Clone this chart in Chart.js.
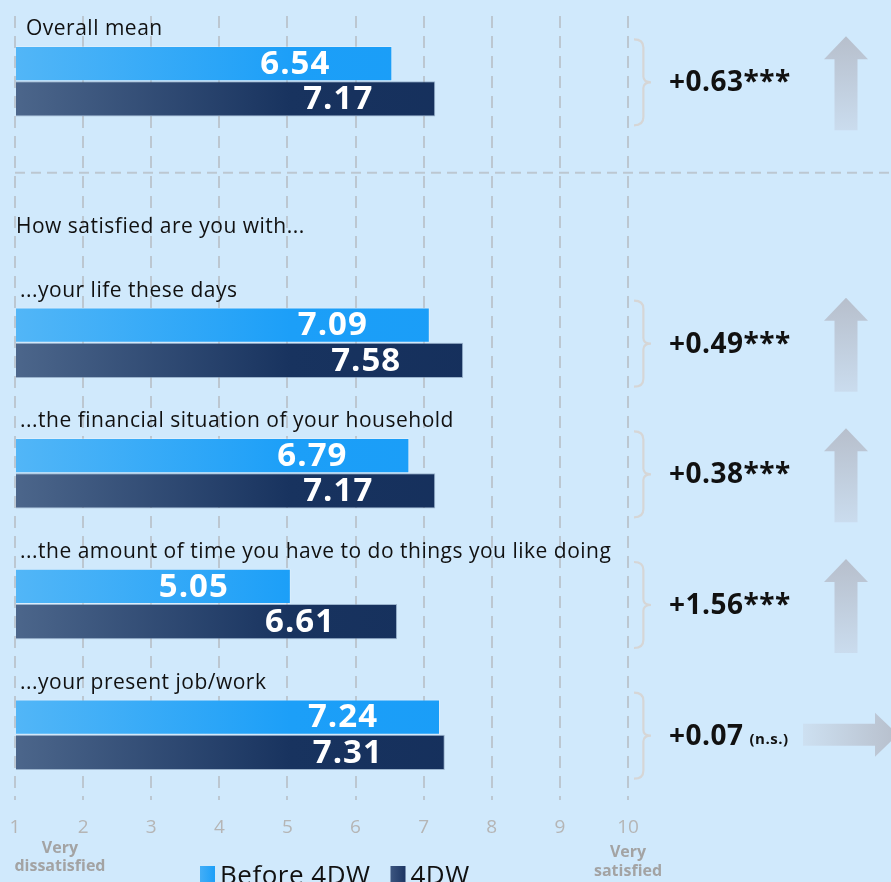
<!DOCTYPE html>
<html>
<head>
<meta charset="utf-8">
<script src="https://cdn.jsdelivr.net/npm/chart.js@4.4.1/dist/chart.umd.min.js"></script>
<style>
  html, body { margin: 0; padding: 0; background: #d0e9fc; overflow: hidden; }
  #wrap { width: 891px; height: 882px; }
</style>
</head>
<body>
<div id="wrap"><canvas id="chart" width="891" height="882"></canvas></div>
<script>
// Row labels (index 1 is the sub-heading, it has no bars)
const categories = [
    'Overall mean',
    'How satisfied are you with...',
    '...your life these days',
    '...the financial situation of your household',
    '...the amount of time you have to do things you like doing',
    '...your present job/work'
];
const before4dw = [6.54, null, 7.09, 6.79, 5.05, 7.24];
const with4dw = [7.17, null, 7.58, 7.17, 6.61, 7.31];
const changeValues = ['+0.63', null, '+0.49', '+0.38', '+1.56', '+0.07'];
const significance = ['***', null, '***', '***', '***', '(n.s.)'];
const xTicks = [1, 2, 3, 4, 5, 6, 7, 8, 9, 10];
const legendLabels = ['Before 4DW', '4DW'];

const FONT = '"Open Sans", "Noto Sans", sans-serif';
const GRID = '#bcc7d1';

// gradient across the chart area, light on the left, solid colour further right
function barGradient(chart, from, mid, to) {
    const area = chart.chartArea;
    if (!area) return to;
    const g = chart.ctx.createLinearGradient(area.left, 0, area.right, 0);
    g.addColorStop(0, from);
    g.addColorStop(0.45, mid);
    g.addColorStop(1, to);
    return g;
}

const annotations = {
    id: 'annotations',
    beforeDatasetsDraw(chart) {
        const { ctx, scales: { x, y } } = chart;
        // dashed separator under the overall mean
        const sepY = y.getPixelForValue(0.7);
        ctx.save();
        ctx.strokeStyle = GRID;
        ctx.lineWidth = 2;
        ctx.setLineDash([10, 6]);
        ctx.beginPath();
        ctx.moveTo(x.left, sepY);
        ctx.lineTo(chart.width, sepY);
        ctx.stroke();
        ctx.restore();
    },
    afterDatasetsDraw(chart) {
        const { ctx, scales: { x, y } } = chart;
        ctx.save();

        // row labels
        ctx.fillStyle = '#111';
        ctx.textBaseline = 'middle';
        ctx.textAlign = 'left';
        ctx.letterSpacing = '0.5px';
        categories.forEach((cat, i) => {
            const cy = y.getPixelForValue(i);
            if (i === 1) {
                ctx.font = '21px ' + FONT;
                ctx.fillText(cat, 16, cy + 15);
            } else {
                ctx.font = '21px ' + FONT;
                ctx.fillText(cat, i === 0 ? 26 : 20, cy - 52);
            }
        });

        // values inside the bars
        ctx.fillStyle = '#fff';
        ctx.font = 'bold 33px ' + FONT;
        ctx.letterSpacing = '1px';
        ctx.textAlign = 'right';
        chart.data.datasets.forEach((ds, di) => {
            chart.getDatasetMeta(di).data.forEach((bar, i) => {
                if (ds.data[i] == null) return;
                ctx.fillText(ds.data[i].toFixed(2), bar.x - 62, bar.y + 1);
            });
        });

        // braces, change values and arrows
        ctx.letterSpacing = '0.5px';
        changeValues.forEach((val, i) => {
            if (val == null) return;
            const cy = y.getPixelForValue(i);
            drawBrace(ctx, 634, cy + 1, 43);

            ctx.fillStyle = '#111';
            ctx.textAlign = 'left';
            ctx.font = 'bold 28px ' + FONT;
            ctx.fillText(val, 669, cy + 2);
            let tx = 669 + ctx.measureText(val).width;
            if (significance[i] === '***') {
                ctx.fillText('***', tx, cy + 2);
                drawUpArrow(ctx, 846, cy + 2);
            } else {
                ctx.font = 'bold 15px ' + FONT;
                ctx.fillText(significance[i], tx + 6, cy + 5);
                drawRightArrow(ctx, 803, cy);
            }
        });

        // "very" labels under the axis
        ctx.fillStyle = '#a3a3a3';
        ctx.font = 'bold 16px ' + FONT;
        ctx.letterSpacing = '0px';
        ctx.textAlign = 'center';
        const lx = x.getPixelForValue(1.66);
        ctx.fillText('Very', lx, 848);
        ctx.fillText('dissatisfied', lx, 866);
        const rx = x.getPixelForValue(10);
        ctx.fillText('Very', rx, 852);
        ctx.fillText('satisfied', rx, 871);

        // legend
        const boxColors = ['#1c9ff8', '#1c3563'];
        let lxPos = 200;
        ctx.font = '26px ' + FONT;
        ctx.letterSpacing = '0.5px';
        ctx.textAlign = 'left';
        legendLabels.forEach((lab, i) => {
            const g = ctx.createLinearGradient(lxPos, 0, lxPos + 15, 0);
            g.addColorStop(0, i === 0 ? '#43aef7' : '#3c5680');
            g.addColorStop(1, boxColors[i]);
            ctx.fillStyle = g;
            ctx.fillRect(lxPos, 866, 15, 17);
            ctx.fillStyle = '#111';
            ctx.fillText(lab, lxPos + 20, 877);
            lxPos += 20 + ctx.measureText(lab).width + 20;
        });

        ctx.restore();
    }
};

function drawBrace(ctx, x0, cy, h) {
    const w = 17;
    ctx.save();
    ctx.strokeStyle = '#d6d6d6';
    ctx.lineWidth = 2.2;
    ctx.beginPath();
    ctx.moveTo(x0, cy - h);
    ctx.quadraticCurveTo(x0 + w * 0.55, cy - h, x0 + w * 0.55, cy - h + 8);
    ctx.lineTo(x0 + w * 0.55, cy - 6);
    ctx.quadraticCurveTo(x0 + w * 0.55, cy, x0 + w, cy);
    ctx.quadraticCurveTo(x0 + w * 0.55, cy, x0 + w * 0.55, cy + 6);
    ctx.lineTo(x0 + w * 0.55, cy + h - 8);
    ctx.quadraticCurveTo(x0 + w * 0.55, cy + h, x0, cy + h);
    ctx.stroke();
    ctx.restore();
}

function drawUpArrow(ctx, cx, cy) {
    const top = cy - 47, bottom = cy + 47;
    const g = ctx.createLinearGradient(0, top, 0, bottom);
    g.addColorStop(0, '#b7bfcc');
    g.addColorStop(1, '#cadcee');
    ctx.save();
    ctx.fillStyle = g;
    ctx.beginPath();
    ctx.moveTo(cx, top);
    ctx.lineTo(cx + 22, top + 23);
    ctx.lineTo(cx + 11.5, top + 23);
    ctx.lineTo(cx + 11.5, bottom);
    ctx.lineTo(cx - 11.5, bottom);
    ctx.lineTo(cx - 11.5, top + 23);
    ctx.lineTo(cx - 22, top + 23);
    ctx.closePath();
    ctx.fill();
    ctx.restore();
}

function drawRightArrow(ctx, left, cy) {
    const headX = 875, tip = 898;
    const g = ctx.createLinearGradient(left, 0, tip, 0);
    g.addColorStop(0, '#cde0f1');
    g.addColorStop(1, '#b7bfcc');
    ctx.save();
    ctx.fillStyle = g;
    ctx.beginPath();
    ctx.moveTo(left, cy - 11);
    ctx.lineTo(headX, cy - 11);
    ctx.lineTo(headX, cy - 22);
    ctx.lineTo(tip, cy);
    ctx.lineTo(headX, cy + 22);
    ctx.lineTo(headX, cy + 11);
    ctx.lineTo(left, cy + 11);
    ctx.closePath();
    ctx.fill();
    ctx.restore();
}

new Chart(document.getElementById('chart'), {
    type: 'bar',
    data: {
        labels: categories,
        datasets: [
            {
                label: legendLabels[0],
                data: before4dw,
                base: 1,
                backgroundColor: ctx => barGradient(ctx.chart, '#52b6f7', '#1c9ff8', '#189cf8'),
                borderColor: 'rgba(255,255,255,0.25)',
                borderWidth: 1,
                borderSkipped: 'left'
            },
            {
                label: legendLabels[1],
                data: with4dw,
                base: 1,
                backgroundColor: ctx => barGradient(ctx.chart, '#4c668b', '#18335f', '#132d5a'),
                borderColor: 'rgba(120,145,175,0.6)',
                borderWidth: 1,
                borderSkipped: 'left'
            }
        ]
    },
    options: {
        indexAxis: 'y',
        responsive: false,
        animation: false,
        layout: { padding: { left: 15, right: 263, top: 16, bottom: 0 } },
        datasets: { bar: { categoryPercentage: 0.54, barPercentage: 1.0 } },
        plugins: { legend: { display: false }, tooltip: { enabled: false } },
        scales: {
            y: { display: false },
            x: {
                type: 'linear',
                min: 1,
                max: 10,
                afterBuildTicks: axis => { axis.ticks = xTicks.map(v => ({ value: v })); },
                afterFit: axis => {
                    axis.height = 82;
                    axis.paddingLeft = 0;
                    axis.paddingRight = 0;
                },
                grid: { color: GRID, lineWidth: 2, drawTicks: false },
                border: { display: false, dash: [12, 8] },
                ticks: {
                    color: '#b5b5b5',
                    padding: 16,
                    font: { family: FONT, size: 19 }
                }
            }
        }
    },
    plugins: [annotations]
});
</script>
</body>
</html>
